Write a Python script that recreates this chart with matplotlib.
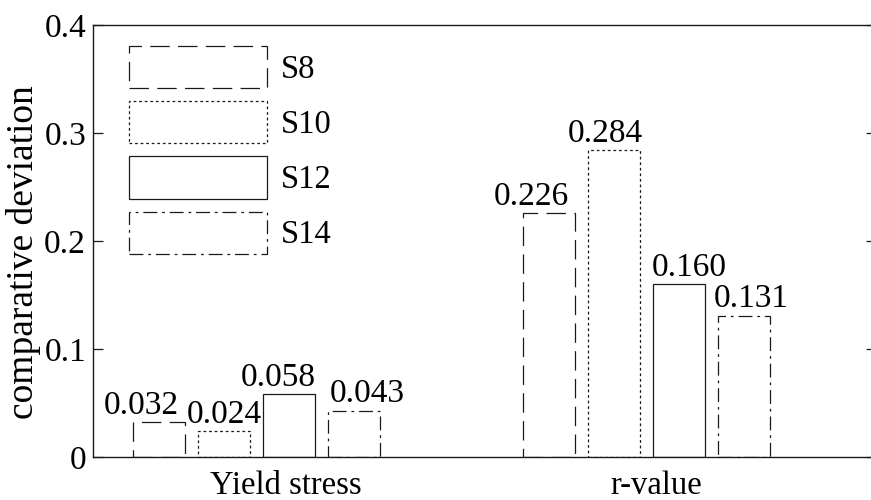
import numpy as np
import matplotlib
matplotlib.use("Agg")
import matplotlib.pyplot as plt
from matplotlib.patches import Patch

plt.rcParams.update({
    "font.family": "serif",
    "font.serif": ["Liberation Serif", "DejaVu Serif"],
    "lines.scale_dashes": False,
})

# --- data ---
groups = ["Yield stress", "r-value"]
series = ["S8", "S10", "S12", "S14"]
values = {
    "S8":  [0.032, 0.226],
    "S10": [0.024, 0.284],
    "S12": [0.058, 0.160],
    "S14": [0.043, 0.131],
}
yticks = [0, 0.1, 0.2, 0.3, 0.4]
ytick_labels = ["0", "0.1", "0.2", "0.3", "0.4"]

# --- style ---
styles = {
    "S8":  (0, (14, 6)),
    "S10": (0, (2, 2)),
    "S12": "solid",
    "S14": (0, (10, 3.5, 2, 3.5)),
}
# small horizontal nudges of value labels (data units), as in the original
label_shift = {
    "S8":  [-0.045, -0.045],
    "S10": [0.0, -0.023],
    "S12": [-0.028, 0.028],
    "S14": [0.033, 0.018],
}
group_label_shift_pt = [21.5, 7.0]   # group names sit a bit right of centre
edge = "#1a1a1a"
bar_w = 0.134
step = 0.1667

fig = plt.figure(figsize=(8.71, 5.0), dpi=100)
# right spine sits just outside the image, like the original crop
ax = fig.add_axes([93 / 871, 43 / 500, 783 / 871, 432 / 500])

x = np.arange(1, len(groups) + 1)
for i, s in enumerate(series):
    xpos = x + (i - 1.5) * step
    ax.bar(xpos, values[s], width=bar_w, facecolor="white", edgecolor=edge,
           linewidth=0.9, linestyle=styles[s], zorder=2)
    for xp, v, dx in zip(xpos, values[s], label_shift[s]):
        ax.annotate(f"{v:.3f}", (xp + dx, v), xytext=(0, 1), textcoords="offset points",
                    ha="center", va="bottom", fontsize=24, zorder=3)

ax.set_xlim(0.581, 2.589)
ax.set_ylim(0, 0.4)
ax.set_xticks([])
# group names under the axis
for xg, name, dx in zip(x, groups, group_label_shift_pt):
    ax.annotate(name, (xg, 0), xycoords=("data", "axes fraction"),
                xytext=(dx, -26.5), textcoords="offset points",
                ha="center", va="baseline", fontsize=23.5, annotation_clip=False)
ax.set_yticks(yticks)
ax.set_yticklabels(ytick_labels, fontsize=24)
ax.tick_params(axis="y", direction="in", length=7, width=0.9, pad=5,
               right=True, color=edge)
for sp in ax.spines.values():
    sp.set_linewidth(1.0)
    sp.set_color(edge)
ax.set_ylabel("comparative deviation", fontsize=27)
ax.yaxis.set_label_coords(-0.067, 0.475)

handles = [Patch(facecolor="white", edgecolor=edge, linewidth=0.9,
                 linestyle=styles[s], label=s) for s in series]
ax.legend(handles=handles, loc="upper left", bbox_to_anchor=(36 / 783, 1 - 21 / 432),
          frameon=False, fontsize=23.5, handlelength=4.23, handleheight=1.61,
          labelspacing=0.40, handletextpad=0.42, borderpad=0, borderaxespad=0)

fig.savefig("out.png", dpi=100)
